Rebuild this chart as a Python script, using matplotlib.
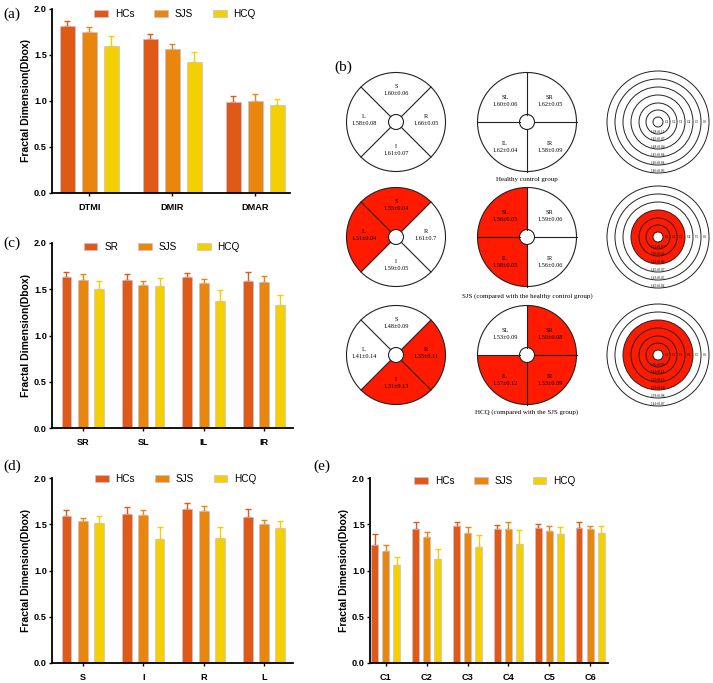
import numpy as np
import matplotlib.pyplot as plt
from matplotlib.patches import Circle, Wedge

plt.rcParams['font.family'] = ['Liberation Sans', 'DejaVu Sans']

# ---- bar data ----
groups = ['HCs', 'SJS', 'HCQ']
colors = ['#E05A17', '#E8860E', '#F4D000']

cats_a = ['DTMI', 'DMIR', 'DMAR']
a_hc = [1.81, 1.67, 0.99]
a_hc_sd = [0.06, 0.06, 0.06]
a_sjs = [1.75, 1.57, 1.00]
a_sjs_sd = [0.05, 0.045, 0.08]
a_hcq = [1.60, 1.42, 0.96]
a_hcq_sd = [0.11, 0.11, 0.06]

cats_c = ['SR', 'SL', 'IL', 'IR']
legend_c = ['SR', 'SJS', 'HCQ']
c_hc = [1.63, 1.60, 1.63, 1.59]
c_hc_sd = [0.055, 0.07, 0.045, 0.10]
c_sjs = [1.60, 1.55, 1.57, 1.58]
c_sjs_sd = [0.065, 0.035, 0.04, 0.06]
c_hcq = [1.50, 1.54, 1.37, 1.33]
c_hcq_sd = [0.09, 0.08, 0.12, 0.105]

cats_d = ['S', 'I', 'R', 'L']
d_hc = [1.59, 1.61, 1.67, 1.58]
d_hc_sd = [0.065, 0.075, 0.055, 0.085]
d_sjs = [1.54, 1.60, 1.64, 1.50]
d_sjs_sd = [0.03, 0.05, 0.06, 0.05]
d_hcq = [1.51, 1.34, 1.355, 1.46]
d_hcq_sd = [0.075, 0.125, 0.11, 0.08]

cats_e = ['C1', 'C2', 'C3', 'C4', 'C5', 'C6']
e_hc = [1.28, 1.45, 1.48, 1.45, 1.46, 1.46]
e_hc_sd = [0.11, 0.07, 0.04, 0.04, 0.04, 0.06]
e_sjs = [1.21, 1.36, 1.41, 1.45, 1.43, 1.45]
e_sjs_sd = [0.065, 0.06, 0.06, 0.07, 0.05, 0.035]
e_hcq = [1.06, 1.12, 1.25, 1.29, 1.39, 1.41]
e_hcq_sd = [0.09, 0.11, 0.13, 0.145, 0.08, 0.07]

# ---- panel (b) text ----
quad_names = ['S', 'R', 'I', 'L']
quad_text = [['1.60±0.06', '1.66±0.05', '1.61±0.07', '1.58±0.08'],
             ['1.55±0.04', '1.61±0.7', '1.59±0.05', '1.51±0.04'],
             ['1.48±0.09', '1.35±0.11', '1.31±0.13', '1.41±0.14']]
quad_red = [[], ['S', 'L'], ['R', 'I']]
four_names = ['SL', 'SR', 'IL', 'IR']
four_text = [['1.60±0.06', '1.62±0.05', '1.62±0.04', '1.58±0.09'],
             ['1.56±0.05', '1.59±0.06', '1.58±0.05', '1.56±0.06'],
             ['1.53±0.09', '1.50±0.08', '1.37±0.12', '1.33±0.09']]
four_red = [[], ['SL', 'IL'], ['SR', 'IL', 'IR']]
ring_red = [0, 3, 4]
row_captions = ['Healthy control group',
                'SJS (compared with the healthy control group)',
                'HCQ (compared with the SJS group)']

W, H = 713, 683
fig = plt.figure(figsize=(W / 100, H / 100), dpi=100)


def px_axes(x0, y0, x1, y1):
    return fig.add_axes([x0 / W, 1 - y1 / H, (x1 - x0) / W, (y1 - y0) / H])


def bar_panel(ax, cats, series, sds, names, xlim, width, offset, leg_xy):
    x = np.arange(len(cats))
    for k in range(3):
        pos = x + (k - 1) * offset
        ax.bar(pos, series[k], width, color=colors[k], edgecolor='#C9BEDD',
               linewidth=0.5, label=names[k], zorder=2)
        ax.errorbar(pos, series[k], yerr=[np.zeros(len(cats)), sds[k]], fmt='none',
                    ecolor=colors[k], elinewidth=1, capsize=2.4, capthick=1, zorder=1)
    ax.set_xlim(*xlim)
    ax.set_ylim(0, 2.0)
    ax.set_yticks([0, 0.5, 1.0, 1.5, 2.0])
    ax.set_yticklabels(['0.0', '0.5', '1.0', '1.5', '2.0'])
    ax.set_xticks(x)
    ax.set_xticklabels(cats)
    for s in ['top', 'right']:
        ax.spines[s].set_visible(False)
    for s in ['left', 'bottom']:
        ax.spines[s].set_linewidth(1.3)
    ax.tick_params(axis='both', length=2.2, width=1)
    ax.tick_params(axis='x', pad=5)
    ax.tick_params(axis='y', pad=1.5)
    for lab in ax.get_xticklabels() + ax.get_yticklabels():
        lab.set_fontsize(6.6)
        lab.set_fontweight('bold')
    ax.set_ylabel('Fractal Dimension(Dbox)', fontsize=7.5, fontweight='bold', labelpad=2)
    ax.legend(ncol=3, frameon=False, loc='center', bbox_to_anchor=leg_xy,
              fontsize=7.2, handlelength=1.35, handleheight=0.6,
              columnspacing=2.0, handletextpad=0.7, borderaxespad=0)


ax_a = px_axes(52, 9, 290, 193)
bar_panel(ax_a, cats_a, [a_hc, a_sjs, a_hcq], [a_hc_sd, a_sjs_sd, a_hcq_sd], groups,
          (-0.45, 2.42), 0.18, 0.265, (0.517, 0.973))

ax_c = px_axes(52, 243, 293, 428)
bar_panel(ax_c, cats_c, [c_hc, c_sjs, c_hcq], [c_hc_sd, c_sjs_sd, c_hcq_sd], legend_c,
          (-0.51, 3.48), 0.165, 0.27, (0.456, 0.978))

ax_d = px_axes(52, 478, 293, 663)
bar_panel(ax_d, cats_d, [d_hc, d_sjs, d_hcq], [d_hc_sd, d_sjs_sd, d_hcq_sd], groups,
          (-0.51, 3.48), 0.165, 0.27, (0.514, 0.995))

ax_e = px_axes(370, 478, 608, 663)
bar_panel(ax_e, cats_e, [e_hc, e_sjs, e_hcq], [e_hc_sd, e_sjs_sd, e_hcq_sd], groups,
          (-0.39, 5.44), 0.17, 0.27, (0.525, 0.984))

# ---- panel (b): regional diagrams ----
bx = px_axes(330, 55, 713, 425)
bx.set_xlim(330, 713)
bx.set_ylim(H - 425, H - 55)
bx.axis('off')

RED = '#FF1A00'
EDGE = '#222222'
serif = 'Liberation Serif'
col_x = [396, 527, 658]
row_y = [122, 237, 355]
R_OUT = 49.5
R_IN = 7.5
ring_r = [5, 12, 19, 27, 35, 43, 51]

quad_span = {'S': (45, 135), 'L': (135, 225), 'I': (225, 315), 'R': (-45, 45)}
quad_pos = {'S': (0, -36), 'R': (30, -6), 'I': (0, 24), 'L': (-32, -6)}
four_span = {'SR': (0, 90), 'SL': (90, 180), 'IL': (180, 270), 'IR': (270, 360)}
four_pos = {'SL': (-22, -25), 'SR': (23, -25), 'IL': (-22, 21), 'IR': (23, 21)}
ring_vals = [e_hc, e_sjs, e_hcq]
ring_sds = [e_hc_sd, e_sjs_sd, e_hcq_sd]

for r, yp in enumerate(row_y):
    cy = H - yp
    # column 1: S / R / I / L
    cx = col_x[0]
    for nm in quad_red[r]:
        t1, t2 = quad_span[nm]
        bx.add_patch(Wedge((cx, cy), R_OUT, t1, t2, facecolor=RED, edgecolor='none'))
    bx.add_patch(Circle((cx, cy), R_OUT, fill=False, edgecolor=EDGE, lw=0.8))
    for ang in [45, 135, 225, 315]:
        a = np.deg2rad(ang)
        bx.plot([cx + R_IN * np.cos(a), cx + R_OUT * np.cos(a)],
                [cy + R_IN * np.sin(a), cy + R_OUT * np.sin(a)], color=EDGE, lw=0.8)
    bx.add_patch(Circle((cx, cy), R_IN, facecolor='white', edgecolor=EDGE, lw=0.8))
    for i, nm in enumerate(quad_names):
        dx, dy = quad_pos[nm]
        bx.text(cx + dx, cy - dy, nm, ha='center', va='center', fontsize=4.5, family=serif)
        bx.text(cx + dx, cy - dy - 7, quad_text[r][i], ha='center', va='center',
                fontsize=4.5, family=serif)

    # column 2: SL / SR / IL / IR
    cx = col_x[1]
    for nm in four_red[r]:
        t1, t2 = four_span[nm]
        bx.add_patch(Wedge((cx, cy), R_OUT, t1, t2, facecolor=RED, edgecolor='none'))
    bx.add_patch(Circle((cx, cy), R_OUT, fill=False, edgecolor=EDGE, lw=0.8))
    for ang in [0, 90, 180, 270]:
        a = np.deg2rad(ang)
        bx.plot([cx + R_IN * np.cos(a), cx + R_OUT * np.cos(a)],
                [cy + R_IN * np.sin(a), cy + R_OUT * np.sin(a)], color=EDGE, lw=0.8)
    bx.add_patch(Circle((cx, cy), R_IN, facecolor='white', edgecolor=EDGE, lw=0.8))
    for i, nm in enumerate(four_names):
        dx, dy = four_pos[nm]
        bx.text(cx + dx, cy - dy, nm, ha='center', va='center', fontsize=4.5, family=serif)
        bx.text(cx + dx, cy - dy - 7, four_text[r][i], ha='center', va='center',
                fontsize=4.5, family=serif)

    # column 3: concentric rings C1..C6
    cx = col_x[2]
    if ring_red[r] > 0:
        ro = ring_r[ring_red[r]]
        bx.add_patch(Wedge((cx, cy), ro, 0, 360, width=ro - ring_r[0],
                           facecolor=RED, edgecolor='none'))
    for rr in ring_r:
        bx.add_patch(Circle((cx, cy), rr, fill=False, edgecolor=EDGE, lw=0.7))
    for k in range(6):
        mid = (ring_r[k] + ring_r[k + 1]) / 2
        bx.text(cx + mid, cy, cats_e[k], ha='center', va='center', fontsize=2.6, family=serif)
        bx.text(cx, cy - mid - 1.5, f'{ring_vals[r][k]:.2f}±{ring_sds[r][k]:.2f}',
                ha='center', va='center', fontsize=2.6, family=serif)

    bx.text(col_x[1], H - (yp + [57, 59, 57][r]), row_captions[r], ha='center',
            va='center', fontsize=5, family=serif)

# ---- panel letters ----
for lab, (xp, yp) in zip(['(a)', '(b)', '(c)', '(d)', '(e)'],
                         [(3, 14), (334, 67), (3, 243), (3, 466), (313, 466)]):
    fig.text(xp / W, 1 - yp / H, lab, ha='left', va='center', fontsize=11, family=serif)

fig.savefig('out.png', dpi=100)
